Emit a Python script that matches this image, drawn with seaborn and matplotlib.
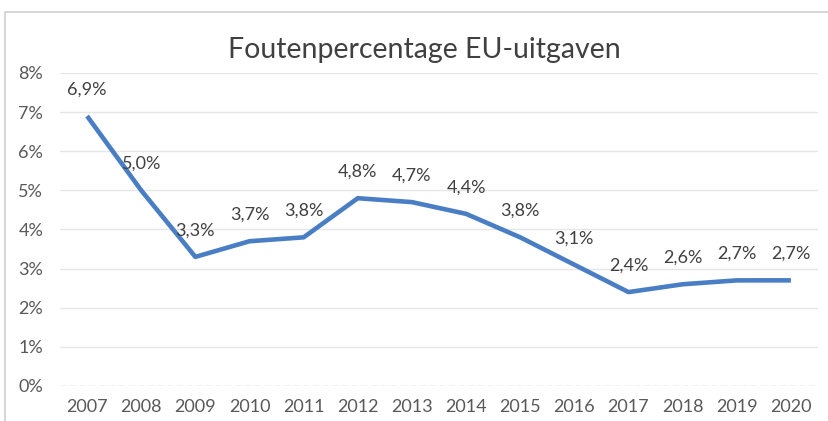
import matplotlib
matplotlib.use("Agg")
import matplotlib.pyplot as plt
from matplotlib.patches import Rectangle
from matplotlib.ticker import FuncFormatter
import seaborn as sns
import pandas as pd

years = ["2007", "2008", "2009", "2010", "2011", "2012", "2013",
         "2014", "2015", "2016", "2017", "2018", "2019", "2020"]
error_rate = [6.9, 5.0, 3.3, 3.7, 3.8, 4.8, 4.7, 4.4, 3.8, 3.1, 2.4, 2.6, 2.7, 2.7]
y_ticks = [0, 1, 2, 3, 4, 5, 6, 7, 8]

df = pd.DataFrame({"jaar": years, "fout": error_rate})

sns.set_style("white")
plt.rcParams["font.family"] = ["Lato", "DejaVu Sans"]

fig = plt.figure(figsize=(8.29, 4.21), dpi=100)
ax = fig.add_axes([60 / 829, 1 - 386 / 421, 758 / 829, 313 / 421])

# chart border like the Excel frame
fig.patches.append(Rectangle((5 / 829, -0.05), 1.0, 1 - 12 / 421 + 0.05,
                             transform=fig.transFigure, fill=False,
                             edgecolor="#d0d0d0", linewidth=1.2))

sns.lineplot(data=df, x="jaar", y="fout", color="#4a7ec4",
             linewidth=3.3, ax=ax, solid_capstyle="butt")

for i, v in enumerate(error_rate):
    ax.annotate(f"{v:.1f}%".replace(".", ","), (i, v),
                textcoords="offset points", xytext=(0, 19),
                ha="center", va="center", fontsize=13, color="#404040")

for t in y_ticks[1:]:
    ax.axhline(t, color="#e6e6e6", linewidth=1, zorder=0)
ax.axhline(0, color="#bfbfbf", linewidth=1, linestyle=(0, (4, 3)), zorder=0)

ax.set_xlim(-0.5, len(years) - 0.5)
ax.set_ylim(0, 8)
ax.set_yticks(y_ticks)
ax.yaxis.set_major_formatter(FuncFormatter(lambda v, p: f"{v:.0f}%"))
ax.tick_params(axis="both", length=0, labelsize=13, colors="#595959")
ax.tick_params(axis="y", pad=12)
ax.tick_params(axis="x", pad=9)
ax.set_xlabel("")
ax.set_ylabel("")
for s in ax.spines.values():
    s.set_visible(False)

fig.text(424 / 829, 1 - 50 / 421, "Foutenpercentage EU-uitgaven",
         ha="center", va="center", fontsize=20.5, color="#404040")

fig.savefig("out.png", dpi=100)
